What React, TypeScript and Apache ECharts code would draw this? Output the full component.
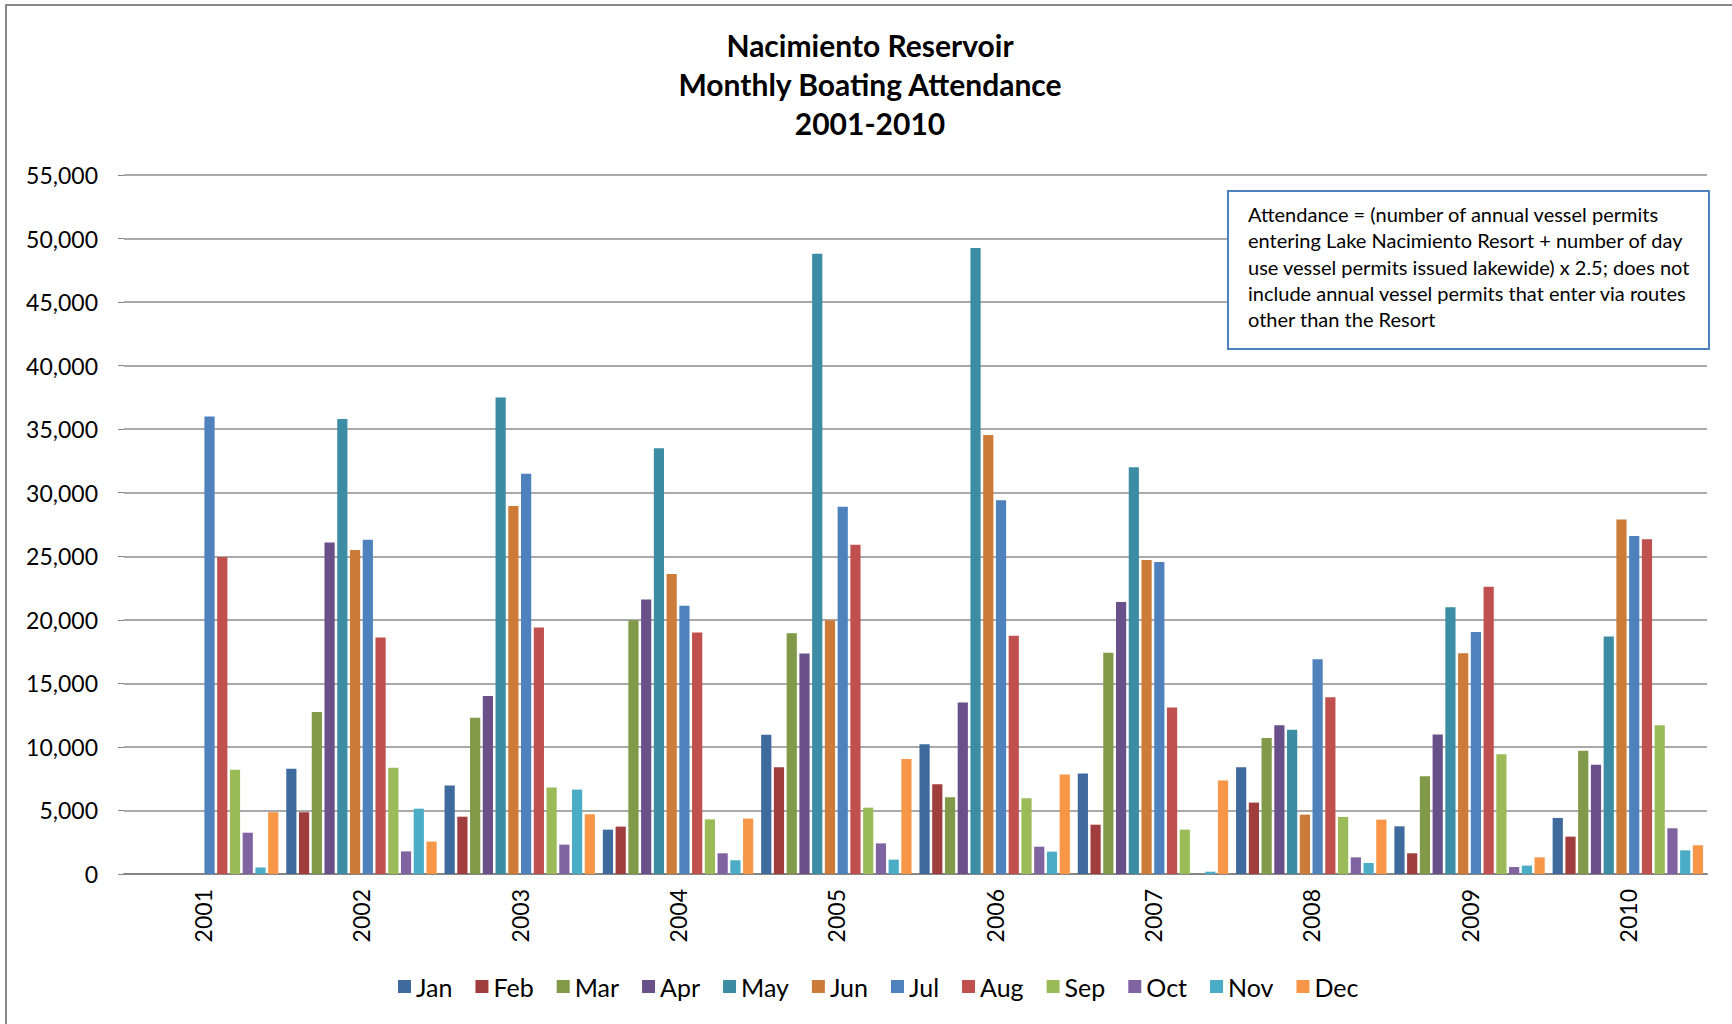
import React, { useEffect, useRef } from "react";
import * as echarts from "echarts";

const years = ["2001", "2002", "2003", "2004", "2005", "2006", "2007", "2008", "2009", "2010"];
const months = ["Jan", "Feb", "Mar", "Apr", "May", "Jun", "Jul", "Aug", "Sep", "Oct", "Nov", "Dec"];
const colors = [
  "#3F6A9D", "#A03E3D", "#809A4A", "#6A5089", "#3C8CA4", "#CC7B38",
  "#4F81BD", "#C0504D", "#9BBB59", "#8064A2", "#4BACC6", "#F79646",
];

const jan = [0, 8280, 6960, 3490, 10950, 10200, 7900, 8390, 3750, 4410];
const feb = [0, 4860, 4510, 3730, 8400, 7060, 3880, 5620, 1630, 2940];
const mar = [0, 12740, 12300, 19960, 18950, 6040, 17400, 10700, 7700, 9700];
const apr = [0, 26080, 14000, 21600, 17350, 13500, 21400, 11700, 10980, 8600];
const may = [0, 35800, 37500, 33500, 48800, 49250, 32000, 11350, 20980, 18680];
const jun = [0, 25500, 28960, 23600, 19960, 34550, 24700, 4670, 17360, 27900];
const jul = [36000, 26300, 31500, 21100, 28900, 29400, 24550, 16900, 19040, 26600];
const aug = [24950, 18600, 19400, 19000, 25900, 18750, 13100, 13900, 22600, 26340];
const sep = [8200, 8360, 6800, 4300, 5220, 5960, 3490, 4490, 9430, 11700];
const oct = [3250, 1780, 2310, 1630, 2410, 2150, 0, 1310, 550, 3600];
const nov = [520, 5140, 6640, 1080, 1130, 1760, 180, 870, 660, 1860];
const dec = [4860, 2550, 4700, 4360, 9050, 7820, 7350, 4280, 1310, 2260];

const monthValues = [jan, feb, mar, apr, may, jun, jul, aug, sep, oct, nov, dec];

const titleLines = ["Nacimiento Reservoir", "Monthly Boating Attendance", "2001-2010"];
const noteLines = [
  "Attendance = (number of annual vessel permits",
  "entering Lake Nacimiento Resort + number of day",
  "use vessel permits issued lakewide) x 2.5; does not",
  "include annual vessel permits that enter via routes",
  "other than the Resort",
];

const FONT = "Lato, 'Open Sans', sans-serif";

export default function App() {
  const ref = useRef<HTMLDivElement>(null);

  useEffect(() => {
    document.body.style.margin = "0";
    const chart = echarts.init(ref.current!, null, { renderer: "svg" });
    chart.setOption({
      animation: false,
      color: colors,
      textStyle: { fontFamily: FONT },
      title: {
        text: titleLines.join("\n"),
        left: 870,
        top: 25,
        padding: 0,
        textAlign: "center",
        textStyle: {
          fontFamily: FONT,
          fontWeight: "bold",
          fontSize: 30,
          lineHeight: 39,
          color: "#000",
        },
      },
      legend: {
        data: months,
        left: 393,
        top: 969,
        icon: "rect",
        itemWidth: 13,
        itemHeight: 13,
        itemGap: 23,
        textStyle: { fontFamily: FONT, fontSize: 25, color: "#000" },
      },
      grid: { left: 124, right: 25, top: 175, bottom: 150, containLabel: false },
      xAxis: {
        type: "category",
        data: years,
        axisLine: { lineStyle: { color: "#868686", width: 2 } },
        axisTick: { show: false },
        axisLabel: {
          rotate: 90,
          margin: 15,
          fontFamily: FONT,
          fontSize: 23,
          color: "#000",
        },
      },
      yAxis: {
        type: "value",
        min: 0,
        max: 55000,
        interval: 5000,
        axisLine: { show: false },
        axisTick: { show: true, length: 6, lineStyle: { color: "#868686" } },
        splitLine: { lineStyle: { color: "#8C8C8C", width: 1.5 } },
        axisLabel: {
          margin: 26,
          fontFamily: FONT,
          fontSize: 23,
          color: "#000",
          formatter: (v: number) => v.toLocaleString("en-US"),
        },
      },
      series: months.map((m, i) => ({
        name: m,
        type: "bar",
        data: monthValues[i],
        barGap: "25%",
        barCategoryGap: "5%",
        itemStyle: { color: colors[i] },
        emphasis: { disabled: true },
      })),
      graphic: [
        {
          type: "rect",
          silent: true,
          shape: { x: 6, y: 5, width: 1800, height: 1100 },
          style: { fill: "none", stroke: "#888888", lineWidth: 2 },
          z: 0,
        },
        {
          type: "rect",
          shape: { x: 1228, y: 191, width: 481, height: 158 },
          style: { fill: "#ffffff", stroke: "#4F81BD", lineWidth: 2 },
          z: 10,
        },
        {
          type: "text",
          x: 1248,
          y: 201,
          z: 11,
          style: {
            text: noteLines.join("\n"),
            fontFamily: FONT,
            fontSize: 20,
            lineHeight: 26.3,
            fill: "#000",
            textAlign: "left",
            textVerticalAlign: "top",
          },
        },
      ],
    });
    return () => chart.dispose();
  }, []);

  return (
    <div
      ref={ref}
      style={{ width: 1732, height: 1024, position: "absolute", left: 0, top: 0 }}
    />
  );
}
